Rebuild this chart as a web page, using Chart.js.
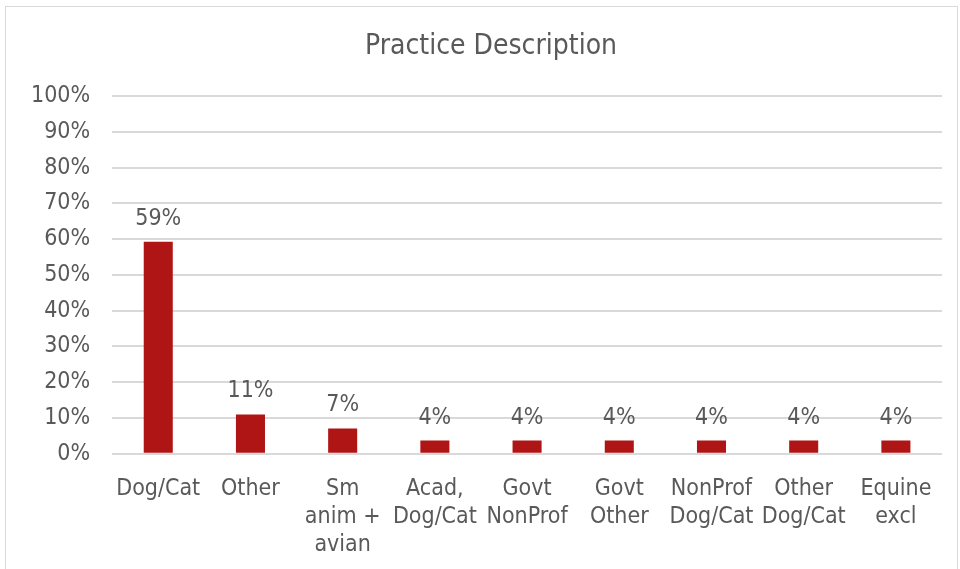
<!DOCTYPE html>
<html>
<head>
<meta charset="utf-8">
<script src="https://cdn.jsdelivr.net/npm/chart.js@4"></script>
<style>
  html, body { margin: 0; padding: 0; background: #fff; overflow: hidden; }
  #box { position: absolute; left: 5px; top: 6px; width: 951px; height: 600px; border: 1px solid #d9d9d9; }
  #grafico { position: absolute; left: 0; top: 0; }
</style>
</head>
<body>
<div id="box"></div>
<canvas id="grafico" width="960" height="580"></canvas>
<script>
const titulo = "Practice Description";
const categorias = [
  "Dog/Cat",
  "Other",
  ["Sm", "anim +", "avian"],
  ["Acad,", "Dog/Cat"],
  ["Govt", "NonProf"],
  ["Govt", "Other"],
  ["NonProf", "Dog/Cat"],
  ["Other", "Dog/Cat"],
  ["Equine", "excl"]
];
const valores = [59.3, 11, 7.1, 3.7, 3.7, 3.7, 3.7, 3.7, 3.7];
const ticksY = [0, 10, 20, 30, 40, 50, 60, 70, 80, 90, 100];

const fonte = "'DejaVu Sans Condensed', 'DejaVu Sans', sans-serif";
const cinza = "#595959";

// título e rótulos em cima das barras
const rotulos = {
  id: "rotulos",
  afterDatasetsDraw(chart) {
    const ctx = chart.ctx;
    const meta = chart.getDatasetMeta(0);
    ctx.save();
    ctx.fillStyle = cinza;
    ctx.textAlign = "center";
    ctx.textBaseline = "alphabetic";
    ctx.font = "23px " + fonte;
    meta.data.forEach((barra, i) => {
      ctx.fillText(Math.round(valores[i]) + "%", barra.x, barra.y - 17);
    });
    ctx.font = "28px " + fonte;
    ctx.textBaseline = "middle";
    ctx.fillText(titulo, chart.width / 2 + 11, 47);
    ctx.restore();
  }
};

const ctx = document.getElementById("grafico").getContext("2d");
new Chart(ctx, {
  type: "bar",
  data: {
    labels: categorias,
    datasets: [{
      data: valores,
      backgroundColor: "#B01515",
      borderWidth: 0,
      barPercentage: 0.315,
      categoryPercentage: 1
    }]
  },
  options: {
    responsive: false,
    animation: false,
    devicePixelRatio: 1,
    layout: { padding: { left: 9, right: 18, top: 96, bottom: 0 } },
    plugins: {
      legend: { display: false },
      tooltip: { enabled: false },
      title: { display: false }
    },
    scales: {
      x: {
        grid: { display: false, drawTicks: false },
        border: { display: false },
        ticks: {
          color: cinza,
          font: { family: fonte, size: 23, lineHeight: 1.22 },
          padding: 21,
          maxRotation: 0,
          autoSkip: false
        }
      },
      y: {
        min: 0,
        max: 100,
        afterBuildTicks(axis) { axis.ticks = ticksY.map(v => ({ value: v })); },
        grid: { color: "#d9d9d9", lineWidth: 2, drawTicks: false },
        border: { display: false },
        ticks: {
          color: cinza,
          font: { family: fonte, size: 23 },
          padding: 22,
          callback: v => v + "%"
        }
      }
    }
  },
  plugins: [rotulos]
});
</script>
</body>
</html>
